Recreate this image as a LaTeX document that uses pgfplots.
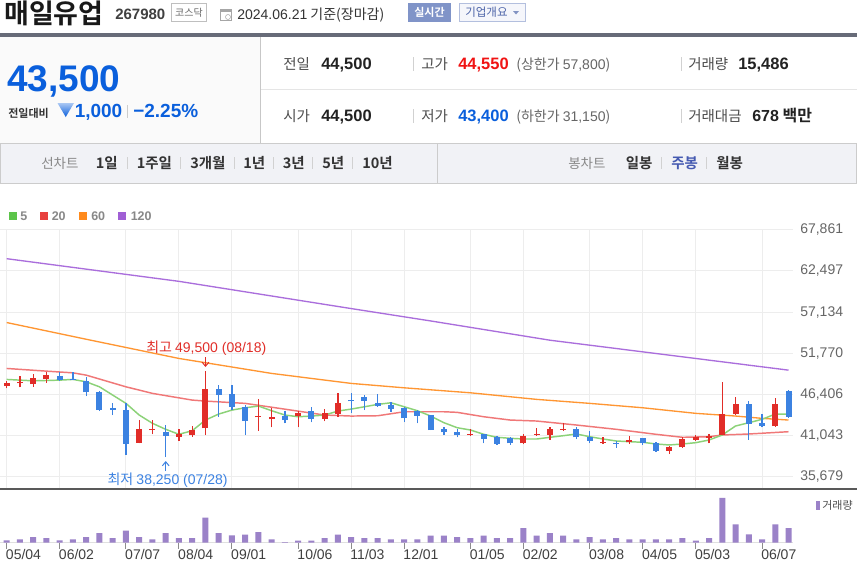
\documentclass[border=0pt]{standalone}
\usepackage{fontspec}
\setmainfont{Noto Sans CJK KR}[BoldFont={Noto Sans CJK KR Bold}]
\newfontfamily\ar{Liberation Sans}
\usepackage{pgfplots}
\pgfplotsset{compat=1.18}
\usepackage{pgfplotstable}
\usetikzlibrary{arrows.meta}

% 1px = 0.75pt
\newcommand\px[1]{\fontsize{\fpeval{#1*0.75}pt}{\fpeval{#1*0.9}pt}\selectfont}

\definecolor{upred}{HTML}{E12D28}
\definecolor{dnblue}{HTML}{3C82E1}
\definecolor{mafive}{HTML}{8CD278}
\definecolor{matwenty}{HTML}{F07878}
\definecolor{masixty}{HTML}{FF9632}
\definecolor{maonetwenty}{HTML}{AA6EDC}
\definecolor{volc}{HTML}{9B82C8}
\definecolor{pblue}{HTML}{0A5FDC}
\definecolor{pred}{HTML}{F01414}
\definecolor{gridc}{HTML}{EDEDED}
\definecolor{txt}{HTML}{222222}
\definecolor{lbl}{HTML}{666666}
\definecolor{lgray}{HTML}{888888}
\definecolor{topbar}{HTML}{676B78}
\definecolor{tbfill}{HTML}{F1F2F6}
\definecolor{btn}{HTML}{8094C8}
\definecolor{btnt}{HTML}{4D64A8}
\definecolor{lgfive}{HTML}{5CC44A}
\definecolor{lgtwenty}{HTML}{E8403E}
\definecolor{lgsixty}{HTML}{FF8A1C}
\definecolor{lgonetwenty}{HTML}{A05FD5}

% weekly candles, rising weeks
\pgfplotstableread{
i o h l c
0 47499 48191 47196 47932
1 47845 48798 47325 47975
2 47758 49014 47412 48495
3 48365 49300 47932 48927
10 40138 43039 40051 41870
11 41784 43082 41220 41870
13 40917 41956 40354 41220
14 41134 42346 40917 41784
15 41999 49500 41134 47066
19 43428 45767 41696 43645
20 43169 44597 42129 43515
22 43602 44251 42129 44035
24 43255 44511 42909 44035
25 43862 46633 43515 45334
35 41134 41870 41004 41220
39 40051 41220 39921 41047
40 41177 41999 41047 41307
41 41177 42216 40484 41913
42 41827 42649 41696 41956
45 40051 40917 40008 40181
47 40181 41004 39964 40484
50 39098 39705 38709 39618
51 39531 40830 39445 40614
52 40484 41090 40397 40830
53 40787 41220 40051 41047
54 41134 48061 41134 43818
55 43862 46027 43732 45117
58 42303 45897 42216 45117
}\upc

% falling weeks
\pgfplotstableread{
i o h l c
4 48841 49274 48191 48278
5 48408 49360 48235 48235
6 48191 48711 46200 46676
7 46762 46892 44251 44381
8 44597 45334 43732 44424
9 44381 45247 38536 39964
12 41566 42432 38250 41004
16 47066 47629 43515 46329
17 46459 47629 44381 44814
18 44814 44987 41134 42952
21 43602 44251 42649 43082
23 44294 44814 42779 43255
26 45680 46633 43948 45507
27 46113 46329 44381 45550
28 45334 46416 44814 44944
29 45031 45464 44165 44511
30 44684 44814 42779 43299
31 44294 44381 42649 43645
32 43688 43732 41784 41784
33 41913 42129 41134 41480
34 41566 41870 40830 41134
36 41220 41263 40051 40614
37 40830 40960 39835 39964
38 40787 40917 39835 40051
43 41913 42129 40614 40830
44 40917 41696 40051 40397
46 40138 40354 39488 40008
48 40700 40744 39878 40051
49 40051 40267 38968 39098
56 45117 45550 40484 42606
57 42736 43862 42129 42303
59 46892 46979 43385 43500
}\dnc

\pgfplotstableread{
i v
0 48369
2 48188
4 48278
5 48369
6 48058
7 47408
8 46330
9 45252
10 43732
11 42654
12 41874
13 41225
14 41693
15 43082
16 43862
17 44381
18 44680
19 44901
20 44291
21 43732
22 43511
23 43602
24 43732
25 44252
26 44511
27 44810
28 45122
29 45330
30 44810
31 44291
32 43602
33 42732
34 42082
35 41783
36 41225
37 40835
38 40705
39 40614
40 40614
41 40835
42 41043
43 41264
44 40913
45 40614
46 40355
47 40264
48 40186
49 39965
50 39835
51 39965
52 40134
53 40484
54 41134
55 42303
56 42732
57 43173
58 43862
59 43862
}\mafivet

\pgfplotstableread{
i v
0 49798
3 49448
5 49227
6 48928
9 47408
11 46551
14 45680
15 45550
18 45252
20 44750
24 43732
26 43602
28 43641
30 44161
33 44161
34 44083
36 43511
38 43082
40 42952
43 42433
46 41874
49 41225
51 40835
53 40913
54 41134
56 41264
59 41563
}\matwentyt

\pgfplotstableread{
i v
0 55774
6 53600
13 51100
20 49150
26 47850
30 47278
35 46629
40 45771
44 45252
48 44680
52 43953
55 43602
57 43303
59 43082
}\masixtyt

\pgfplotstableread{
i v
0 64087
13 61139
26 57593
32 55982
41 53475
52 51097
59 49578
}\maonetwentyt

\pgfplotstableread{
i v
0 17500
1 25000
2 42500
3 35000
4 17500
5 25000
6 42500
7 72500
8 35000
9 90000
10 42500
11 25000
12 72500
13 35000
14 35000
15 187500
16 72500
17 55000
18 60000
19 80000
20 25000
21 5000
22 15000
23 15000
24 35000
25 60000
26 42500
27 35000
28 35000
29 25000
30 25000
31 25000
32 52500
33 52500
34 42500
35 35000
36 52500
37 35000
38 35000
39 110000
40 52500
41 72500
42 52500
43 25000
44 42500
45 25000
46 35000
47 25000
48 25000
49 25000
50 25000
51 35000
52 15000
53 35000
54 335000
55 137500
56 62500
57 25000
58 137500
59 110000
}\volt

\pgfplotsset{
  candle/.style={only marks, mark size=0pt, mark options={draw opacity=0, fill opacity=0},
    error bars/.cd, y dir=plus, y explicit, error mark=none,
    error bar style={draw=#1}},
}

\begin{document}
\begin{tikzpicture}
\begin{scope}[x=0.75pt,y=-0.75pt]
\fill[white] (0,0) rectangle (857,565);
% title row
\node[anchor=base west, inner sep=0, font=\bfseries\px{27}, text=black!90] at (4,23) {매일유업};
\node[anchor=base west, inner sep=0, font=\ar\bfseries\px{15}, text=black!75] at (115,19) {267980};
\draw[black!25, fill=white] (171.5,3.5) rectangle (206.5,21.5);
\node[font=\px{10}, text=lbl] at (189,12.5) {코스닥};
\draw[black!35] (220.5,9.5) rectangle (231.5,20.5);
\fill[black!35] (220.5,9.5) rectangle (231.5,12);
\draw[black!35] (228,17) circle (2.5);
\node[anchor=base west, inner sep=0, font=\px{14}, text=black!80] at (237,19.5) {{\ar 2024.06.21} 기준(장마감)};
\fill[btn] (408,3) rectangle (451,22);
\node[font=\bfseries\px{11}, text=white] at (429.5,12.5) {실시간};
\draw[btn!60, fill=btn!8] (459.5,3.5) rectangle (525.5,21.5);
\node[anchor=west, inner sep=0, font=\px{11.5}, text=btnt] at (465,12.5) {기업개요};
\fill[btnt!70] (513,11) -- (519,11) -- (516,14.5) -- cycle;
% price info block
\fill[topbar] (0,33) rectangle (857,37);
\fill[black!2] (0,37) rectangle (260,143);
\draw[black!22] (260.5,37) -- (260.5,143);
\draw[black!10] (261,89.5) -- (857,89.5);
\node[anchor=base west, inner sep=0, font=\ar\bfseries\px{37}, text=pblue] at (7,91.5) {43,500};
\node[anchor=base west, inner sep=0, font=\bfseries\px{11}, text=black!80] at (8,117) {전일대비};
\shade[top color=pblue!35, bottom color=pblue] (57.5,103) -- (74,103) -- (65.75,117) -- cycle;
\node[anchor=base west, inner sep=0, font=\ar\bfseries\px{19}, text=pblue] at (74.5,117.3) {1,000};
\draw[black!20] (127,105) -- (127,118);
\node[anchor=base west, inner sep=0, font=\ar\bfseries\px{19}, text=pblue] at (133,117.3) {−2.25\%};
% rows
\foreach \ya/\yc in {57/71, 109/123} {
  \draw[black!18] (413.5,\ya) -- (413.5,\yc);
  \draw[black!18] (681.5,\ya) -- (681.5,\yc);
}
\node[anchor=base west, inner sep=0, font=\px{14.5}, text=black!70] at (283,69.5) {전일};
\node[anchor=base west, inner sep=0, font=\ar\bfseries\px{16.5}, text=txt] at (321,69.5) {44,500};
\node[anchor=base west, inner sep=0, font=\px{14.5}, text=black!70] at (421,69.5) {고가};
\node[anchor=base west, inner sep=0, font=\ar\bfseries\px{16.5}, text=pred] at (458,69.5) {44,550};
\node[anchor=base west, inner sep=0, font=\px{14}, text=black!60] at (516,69.5) {(상한가 {\ar 57,800})};
\node[anchor=base west, inner sep=0, font=\px{14.5}, text=black!70] at (688,69.5) {거래량};
\node[anchor=base west, inner sep=0, font=\ar\bfseries\px{16.5}, text=txt] at (738,69.5) {15,486};
\node[anchor=base west, inner sep=0, font=\px{14.5}, text=black!70] at (283,121.5) {시가};
\node[anchor=base west, inner sep=0, font=\ar\bfseries\px{16.5}, text=txt] at (321,121.5) {44,500};
\node[anchor=base west, inner sep=0, font=\px{14.5}, text=black!70] at (421,121.5) {저가};
\node[anchor=base west, inner sep=0, font=\ar\bfseries\px{16.5}, text=pblue] at (458,121.5) {43,400};
\node[anchor=base west, inner sep=0, font=\px{14}, text=black!60] at (516,121.5) {(하한가 {\ar 31,150})};
\node[anchor=base west, inner sep=0, font=\px{14.5}, text=black!70] at (688,121.5) {거래대금};
\node[anchor=base west, inner sep=0, font=\bfseries\px{16}, text=txt] at (752,121.5) {{\ar 678} 백만};
% period toolbar
\draw[black!20, fill=tbfill] (0.5,143.5) rectangle (856.5,183.5);
\draw[black!20] (437.5,143.5) -- (437.5,183.5);
\node[anchor=base west, inner sep=0, font=\px{13.5}, text=lgray] at (41,168.5) {선차트};
\foreach \x/\t in {95.5/1일, 136.5/1주일, 190/3개월, 243/1년, 282.5/3년, 322/5년, 362/10년}
  \node[anchor=base west, inner sep=0, font=\bfseries\px{14.5}, text=black!80] at (\x,168.5) {\t};
\foreach \x in {127,180,234,273,312.5,352.5}
  \draw[black!18] (\x,157) -- (\x,169);
\node[anchor=base west, inner sep=0, font=\px{13.5}, text=lgray] at (568,168.5) {봉차트};
\node[anchor=base west, inner sep=0, font=\bfseries\px{14.5}, text=black!80] at (625.5,168.5) {일봉};
\node[anchor=base west, inner sep=0, font=\bfseries\px{14.5}, text=btnt!90!blue] at (671,168.5) {주봉};
\node[anchor=base west, inner sep=0, font=\bfseries\px{14.5}, text=black!80] at (716,168.5) {월봉};
\foreach \x in {661,706}
  \draw[black!18] (\x,157) -- (\x,169);
% moving-average legend
\fill[lgfive] (9,212) rectangle (17,220);
\node[anchor=base west, inner sep=0, font=\ar\bfseries\px{12.5}, text=lgray] at (20,220.5) {5};
\fill[lgtwenty] (40,212) rectangle (48,220);
\node[anchor=base west, inner sep=0, font=\ar\bfseries\px{12.5}, text=lgray] at (51.5,220.5) {20};
\fill[lgsixty] (79,212) rectangle (87,220);
\node[anchor=base west, inner sep=0, font=\ar\bfseries\px{12.5}, text=lgray] at (91,220.5) {60};
\fill[lgonetwenty] (117.5,212) rectangle (125.5,220);
\node[anchor=base west, inner sep=0, font=\ar\bfseries\px{12.5}, text=lgray] at (130.5,220.5) {120};
% panel divider and volume legend
\fill[black!65] (0,487.7) rectangle (857,489.7);
\fill[volc] (816,500.5) rectangle (819.5,510);
\node[anchor=west, inner sep=0, font=\px{11}, text=black!70] at (822,505.5) {거래량};
\draw[black!12] (0,542.7) -- (793,542.7);
\end{scope}

% price panel
\begin{axis}[
  at={(0pt,-172.275pt)}, anchor=north west,
  width=594.75pt, height=193.725pt, scale only axis,
  xmin=-0.506, xmax=59.34,
  ymin=34234, ymax=67861,
  scaled y ticks=false,
  axis line style={draw=none},
  major tick length=0pt,
  xtick={0,4,9,13,17,22,26,30,35,39,44,48,52,57},
  xticklabels={},
  ytick={35679,41043,46406,51770,57134,62497,67861},
  yticklabels={{35,679},{41,043},{46,406},{51,770},{57,134},{62,497},{67,861}},
  yticklabel pos=right,
  yticklabel style={font=\ar\px{14}, text=lbl, anchor=west, inner sep=0pt, xshift=5.25pt},
  grid=major, grid style={draw=gridc, line width=0.75pt},
  clip=false,
]
\addplot[maonetwenty, line width=1pt, mark=none] table[x=i, y=v] {\maonetwentyt};
\addplot[masixty, line width=1pt, mark=none] table[x=i, y=v] {\masixtyt};
\addplot[matwenty, line width=1.1pt, mark=none] table[x=i, y=v] {\matwentyt};
\addplot[mafive, line width=1.1pt, mark=none] table[x=i, y=v] {\mafivet};
% wicks
\addplot[candle=upred, error bar style={line width=0.9pt}]
  table[x=i, y=l, y error plus expr=\thisrow{h}-\thisrow{l}] {\upc};
\addplot[candle=dnblue, error bar style={line width=0.9pt}]
  table[x=i, y=l, y error plus expr=\thisrow{h}-\thisrow{l}] {\dnc};
% bodies
\addplot[candle=upred, error bar style={line width=4.5pt}]
  table[x=i, y=o, y error plus expr={max(\thisrow{c}-\thisrow{o},120)}] {\upc};
\addplot[candle=dnblue, error bar style={line width=4.5pt}]
  table[x=i, y=c, y error plus expr={max(\thisrow{o}-\thisrow{c},120)}] {\dnc};
% high / low notes
\node[anchor=base, inner sep=0, font=\px{14}, text=upred] at (axis cs:15.06,51848) {최고 {\ar 49,500 (08/18)}};
\draw[upred, line width=0.75pt, -{Straight Barb[length=3pt,width=5pt]}] (axis cs:15,51288) -- (axis cs:15,49986);
\node[anchor=base, inner sep=0, font=\px{14}, text=dnblue] at (axis cs:12.14,34755) {최저 {\ar 38,250 (07/28)}};
\draw[dnblue, line width=0.75pt, -{Straight Barb[length=3pt,width=5pt]}] (axis cs:12,36448) -- (axis cs:12,37749);
\end{axis}

% volume panel
\begin{axis}[
  at={(0pt,-368.25pt)}, anchor=north west,
  width=594.75pt, height=38.775pt, scale only axis,
  xmin=-0.506, xmax=59.34, ymin=0, ymax=387000,
  axis x line*=bottom, axis y line=none,
  x axis line style={draw=none},
  tick align=outside, major tick length=4.5pt,
  x tick style={draw=black!45, line width=0.75pt},
  xtick={0,4,9,13,17,22,26,30,35,39,44,48,52,57},
  xticklabels={05/04,06/02,07/07,08/04,09/01,10/06,11/03,12/01,01/05,02/02,03/08,04/05,05/03,06/07},
  xticklabel style={font=\ar\px{14}, text=black!75, anchor=north west, inner sep=0pt, xshift=-0.75pt},
  clip=false,
]
\addplot[ybar, bar width=4.5pt, bar shift=0pt, fill=volc, draw=none] table[x=i, y=v] {\volt};
\end{axis}

\pgfresetboundingbox
\path[use as bounding box] (0pt,0pt) rectangle (642.75pt,-423.75pt);
\end{tikzpicture}
\end{document}
